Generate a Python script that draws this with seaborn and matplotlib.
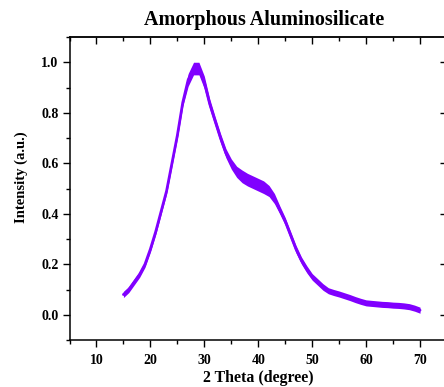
import matplotlib
matplotlib.use("Agg")
import matplotlib.pyplot as plt
import seaborn as sns
import pandas as pd
from matplotlib.ticker import MultipleLocator

two_theta = [15, 16, 17, 18, 19, 20, 21, 22, 23, 24, 25, 26, 27, 28, 29, 30,
             31, 32, 33, 34, 35, 36, 37, 38, 39, 40, 41, 42, 43, 44, 45, 46,
             47, 48, 49, 50, 51, 52, 53, 54, 55, 56, 57, 58, 59, 60, 61, 62,
             63, 64, 65, 66, 67, 68, 69, 70]
intensity = [0.08, 0.10, 0.13, 0.16, 0.20, 0.26, 0.33, 0.41, 0.49, 0.60, 0.71, 0.84,
             0.93, 0.975, 0.975, 0.92, 0.835, 0.767, 0.70, 0.64, 0.597, 0.566,
             0.548, 0.535, 0.525, 0.515, 0.505, 0.49, 0.46, 0.415, 0.37, 0.315,
             0.26, 0.215, 0.18, 0.15, 0.13, 0.11, 0.095, 0.088, 0.082, 0.075,
             0.068, 0.06, 0.053, 0.047, 0.045, 0.043, 0.041, 0.040, 0.038, 0.037,
             0.035, 0.032, 0.026, 0.018]
noise_halfwidth = [0.012, 0.012, 0.012, 0.012, 0.012, 0.012, 0.012, 0.012, 0.012, 0.012,
                   0.012, 0.015, 0.025, 0.025, 0.025, 0.025, 0.02, 0.018, 0.018, 0.018,
                   0.02, 0.022, 0.025, 0.025, 0.025, 0.025, 0.025, 0.022, 0.02, 0.016,
                   0.015, 0.015, 0.015, 0.014, 0.014, 0.013, 0.013, 0.013, 0.012, 0.012,
                   0.012, 0.012, 0.012, 0.012, 0.012, 0.012, 0.012, 0.012, 0.012, 0.012,
                   0.012, 0.012, 0.012, 0.012, 0.012, 0.012]

title = "Amorphous Aluminosilicate"
xlabel = "2 Theta (degree)"
ylabel = "Intensity (a.u.)"
xtick_values = [10, 20, 30, 40, 50, 60, 70]
ytick_values = [0.0, 0.2, 0.4, 0.6, 0.8, 1.0]
ytick_labels = ["0.0", "0.2", "0.4", "0.6", "0.8", "1.0"]

df = pd.DataFrame({"x": two_theta, "y": intensity, "hw": noise_halfwidth})
color = "#8000FF"

sns.set_style("ticks")
plt.rcParams["font.family"] = ["Liberation Serif", "DejaVu Serif"]
plt.rcParams["font.weight"] = "bold"
plt.rcParams["text.color"] = "black"
plt.rcParams["xtick.color"] = "black"
plt.rcParams["ytick.color"] = "black"

fig = plt.figure(figsize=(4.44, 3.87), dpi=100)
ax = fig.add_axes([69.5 / 444, 47 / 387, (447 - 69.5) / 444, (340 - 37) / 387])

ax.fill_between(df["x"], df["y"] - df["hw"], df["y"] + df["hw"], color=color, lw=0)
sns.lineplot(data=df, x="x", y="y", ax=ax, color=color, linewidth=2.0)

ax.set_xlim(5, 75)
ax.set_ylim(-0.1, 1.1)
ax.set_xticks(xtick_values)
ax.set_yticks(ytick_values)
ax.set_yticklabels(ytick_labels)
ax.xaxis.set_minor_locator(MultipleLocator(5))
ax.yaxis.set_minor_locator(MultipleLocator(0.1))

for s in ax.spines.values():
    s.set_visible(True)
    s.set_color("black")
    s.set_linewidth(1.1)

ax.tick_params(axis="both", which="major", length=5, width=1, labelsize=10,
               direction="out", labelcolor="black")
ax.tick_params(axis="both", which="minor", length=3, width=1, direction="out")
ax.tick_params(axis="x", which="major", pad=5)
ax.tick_params(axis="y", which="major", pad=3)

# mirrored ticks on top and right, pointing inward
top = ax.secondary_xaxis("top")
top.set_xticks(xtick_values)
top.xaxis.set_minor_locator(MultipleLocator(5))
top.tick_params(which="major", direction="in", length=5, width=1, labeltop=False)
top.tick_params(which="minor", direction="in", length=3, width=1)
top.spines["top"].set_linewidth(1.1)
right = ax.secondary_yaxis("right")
right.set_yticks(ytick_values)
right.tick_params(which="major", direction="in", length=5, width=1, labelright=False)
right.spines["right"].set_linewidth(1.1)

for lab in ax.get_xticklabels() + ax.get_yticklabels():
    lab.set_fontweight("bold")

ax.set_xlabel("")
ax.set_ylabel("")
fig.text(258 / 444, 1 - 378 / 387, xlabel, ha="center", va="center",
         fontsize=11.4, fontweight="bold", color="black")
fig.text(21.5 / 444, 1 - 177.5 / 387, ylabel, ha="center", va="center",
         rotation=90, fontsize=10.5, fontweight="bold", color="black")
fig.text(264 / 444, 1 - 25 / 387, title, ha="center", va="baseline",
         fontsize=14.5, fontweight="bold", color="black")

fig.savefig("out.png", dpi=100)
